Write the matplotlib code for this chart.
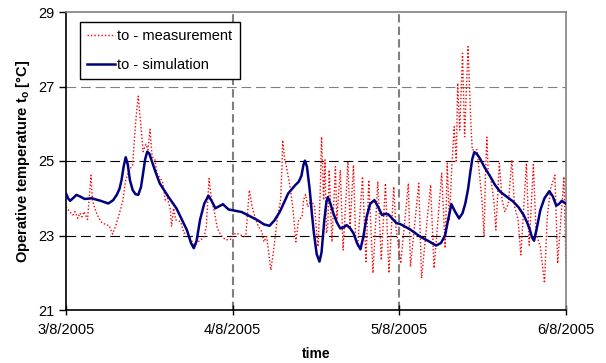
import matplotlib
matplotlib.use("Agg")
import matplotlib.pyplot as plt

plt.rcParams['font.family'] = ['Liberation Sans', 'DejaVu Sans']
plt.rcParams['mathtext.fontset'] = 'custom'
plt.rcParams['mathtext.rm'] = 'Liberation Sans'
plt.rcParams['mathtext.bf'] = 'Liberation Sans:bold'
plt.rcParams['mathtext.it'] = 'Liberation Sans:italic'
plt.rcParams['lines.scale_dashes'] = False

# time in hours from 3/8/2005 00:00
meas_h = [0.0, 0.5, 1.0, 1.3, 1.7, 2.0, 2.3, 2.6, 3.1, 3.6, 3.8, 4.3, 5.0, 5.8, 6.2, 6.7, 7.2, 7.7,
          8.2, 8.6, 9.1, 9.6, 9.8, 10.1, 10.4, 10.8, 11.1, 11.5, 11.8, 12.1, 12.4, 12.8, 13.1, 13.4,
          13.9, 14.3, 14.6, 15.0, 15.2, 15.5, 15.8, 16.5, 17.0, 17.5, 18.0, 18.5, 19.0, 19.4, 19.9,
          20.2, 20.6, 20.9, 21.4, 21.8, 22.3, 23.0, 23.7, 24.4, 24.9, 25.6, 25.9, 26.4, 26.8, 27.2,
          27.7, 28.2, 28.5, 28.9, 29.2, 29.5, 29.9, 30.4, 30.9, 31.1, 31.2, 31.5, 31.7, 32.0, 32.3,
          32.7, 33.1, 33.5, 34.0, 34.2, 34.5, 34.8, 35.3, 35.8, 36.1, 36.3, 36.6, 36.8, 37.1, 37.3,
          37.5, 37.7, 37.9, 38.3, 38.8, 39.0, 39.5, 39.9, 40.6, 40.9, 41.4, 41.7, 42.0, 42.7, 43.2,
          43.6, 44.2, 44.9, 45.4, 46.0, 46.5, 47.2, 47.5, 48.2, 49.3, 49.6, 50.8, 51.2, 52.5, 53.0,
          54.1, 54.6, 54.9, 55.2, 55.6, 55.9, 56.2, 56.4, 56.7, 57.1, 57.4, 57.9, 58.3, 58.5, 59.2,
          59.9, 60.2, 60.4, 60.6, 60.8, 61.1, 61.6, 61.9, 62.4, 62.8, 63.2, 63.7, 64.2, 64.6, 65.1,
          65.5, 66.3, 66.7, 67.3, 67.7, 68.3, 68.9, 69.3, 69.8, 70.4, 70.8, 71.7, 72.0]
meas_t = [23.77, 23.64, 23.55, 23.64, 23.46, 23.60, 23.50, 23.64, 23.43, 24.62, 23.95, 23.64, 23.37,
          23.28, 23.27, 23.04, 23.28, 23.60, 23.95, 24.49, 24.76, 24.89, 25.47, 26.19, 26.74, 25.92,
          25.25, 25.45, 25.30, 25.85, 25.12, 25.03, 24.67, 24.58, 24.44, 23.95, 24.00, 23.73, 23.24,
          23.73, 23.42, 23.37, 23.06, 23.10, 22.88, 22.74, 22.83, 22.88, 22.97, 23.24, 24.53, 24.04,
          23.60, 23.19, 23.01, 22.88, 22.90, 23.06, 23.04, 22.97, 23.00, 24.22, 23.77, 23.50, 23.24,
          23.10, 22.83, 22.97, 22.52, 22.07, 22.60, 23.42, 23.95, 24.85, 25.56, 25.03, 24.90, 24.58,
          24.27, 23.68, 22.83, 23.42, 23.50, 23.95, 24.10, 23.77, 23.95, 23.77, 23.06, 22.70, 24.13,
          25.65, 23.95, 25.03, 23.06, 23.24, 24.76, 22.83, 24.85, 23.42, 24.76, 22.61, 24.98, 23.24,
          24.89, 22.97, 22.70, 24.58, 22.30, 24.49, 21.99, 24.45, 22.34, 24.40, 21.99, 24.31, 23.24,
          22.25, 24.40, 22.16, 24.40, 21.85, 24.36, 22.12, 24.67, 22.66, 24.94, 23.42, 25.00, 25.92,
          25.00, 27.09, 25.83, 27.89, 25.65, 28.07, 26.01, 25.30, 25.30, 23.95, 22.97, 24.60, 25.64,
          24.70, 24.60, 23.95, 23.15, 24.94, 23.95, 23.64, 23.86, 25.03, 23.77, 23.42, 22.48, 24.94,
          22.74, 24.90, 23.06, 22.70, 21.72, 23.50, 24.27, 24.62, 22.25, 24.58, 22.20]

sim_h = [0.0, 0.3, 0.6, 1.0, 1.5, 2.0, 2.7, 3.7, 5.0, 6.1, 6.8, 7.3, 7.7, 8.0, 8.3, 8.6, 8.9, 9.2,
         9.6, 10.0, 10.4, 10.8, 11.1, 11.4, 11.7, 12.0, 12.3, 12.9, 13.5, 14.7, 15.9, 17.4, 18.0,
         18.4, 18.8, 19.3, 19.9, 20.5, 21.0, 21.5, 22.0, 22.6, 23.4, 25.3, 27.5, 28.5, 29.3, 30.0,
         30.8, 32.0, 33.0, 33.5, 33.9, 34.2, 34.4, 34.7, 35.1, 35.4, 35.7, 36.1, 36.5, 36.8, 37.2,
         37.5, 37.7, 38.0, 38.5, 39.0, 39.5, 40.0, 40.4, 40.9, 41.4, 41.9, 42.4, 42.8, 43.3, 43.8,
         44.4, 45.0, 45.5, 46.0, 46.4, 47.0, 47.6, 48.1, 49.5, 51.0, 52.2, 53.3, 54.0, 54.6, 55.0,
         55.5, 56.0, 56.6, 57.1, 57.5, 57.9, 58.2, 58.5, 58.8, 59.2, 59.6, 60.3, 61.1, 61.8, 62.5,
         63.4, 64.4, 65.2, 65.9, 66.4, 66.8, 67.1, 67.4, 67.8, 68.3, 68.9, 69.6, 70.1, 70.6, 71.0,
         71.4, 72.0]
sim_t = [24.13, 24.00, 23.93, 24.00, 24.09, 24.05, 23.98, 24.00, 23.93, 23.86, 23.95, 24.09, 24.25,
         24.49, 24.85, 25.10, 24.90, 24.49, 24.22, 24.11, 24.09, 24.30, 24.67, 25.05, 25.25, 25.20,
         25.03, 24.70, 24.40, 24.05, 23.73, 23.15, 22.80, 22.66, 22.85, 23.42, 23.85, 24.07, 23.92,
         23.73, 23.78, 23.84, 23.70, 23.63, 23.42, 23.30, 23.26, 23.40, 23.64, 24.13, 24.35, 24.44,
         24.60, 24.90, 25.01, 24.85, 24.22, 23.60, 23.06, 22.50, 22.30, 22.55, 23.42, 23.90, 24.03,
         23.90, 23.60, 23.35, 23.19, 23.22, 23.28, 23.20, 23.06, 22.80, 22.63, 22.95, 23.51, 23.85,
         23.95, 23.75, 23.55, 23.58, 23.57, 23.45, 23.33, 23.31, 23.17, 22.97, 22.85, 22.73, 22.80,
         23.01, 23.40, 23.84, 23.65, 23.46, 23.60, 23.86, 24.25, 24.67, 25.05, 25.24, 25.18, 25.07,
         24.82, 24.58, 24.35, 24.18, 24.05, 23.91, 23.75, 23.55, 23.35, 23.15, 22.95, 22.86, 23.20,
         23.68, 24.00, 24.19, 24.05, 23.80, 23.85, 23.93, 23.85]

x_ticks = [0, 24, 48, 72]
x_labels = ["3/8/2005", "4/8/2005", "5/8/2005", "6/8/2005"]
y_ticks = [21, 23, 25, 27, 29]

fig = plt.figure(figsize=(6.06, 3.63), dpi=100)
ax = fig.add_axes([66/606, 1-310/363, 500/606, 298/363])

# grid lines
for yv, col in [(23, 'black'), (25, 'black'), (27, '#808080')]:
    ax.axhline(yv, color=col, lw=0.8, dashes=(7, 3.5), zorder=1)
for xv in [24, 48]:
    ax.axvline(xv, color='#808080', lw=1.5, dashes=(6, 3), zorder=1)

ax.plot(meas_h, meas_t, color='red', lw=1.0, linestyle=(0, (1, 1.5)), label='to - measurement', zorder=2)
ax.plot(sim_h, sim_t, color='#000080', lw=1.8, label='to - simulation', zorder=3,
        solid_joinstyle='round')

ax.set_xlim(0, 72)
ax.set_ylim(21, 29)
ax.set_xticks(x_ticks)
ax.set_xticklabels(x_labels)
ax.set_yticks(y_ticks)
ax.tick_params(axis='x', direction='inout', length=7, width=1, labelsize=10.5, pad=6)
ax.tick_params(axis='y', direction='out', length=5, width=1, labelsize=10.5, pad=3)

for s in ['top', 'right']:
    ax.spines[s].set_color('#808080')
    ax.spines[s].set_linewidth(1.2)
ax.spines['left'].set_color('black')
ax.spines['bottom'].set_color('black')
ax.spines['left'].set_linewidth(1.2)
ax.spines['bottom'].set_linewidth(1.2)

ax.set_xlabel('time', fontsize=10, fontweight='bold', labelpad=7)
ax.set_ylabel(r'Operative temperature $\mathbf{t}_{\mathbf{o}}$ [°C]', fontsize=10.5, fontweight='bold', labelpad=5)

leg = ax.legend(loc='upper left', bbox_to_anchor=(0.028, 0.966), borderaxespad=0,
                fancybox=False, edgecolor='black', framealpha=1, fontsize=10.5,
                handlelength=1.9, handletextpad=0.15, labelspacing=1.0, borderpad=0.5)
leg.get_frame().set_linewidth(1.0)

fig.savefig('out.png', dpi=100)
